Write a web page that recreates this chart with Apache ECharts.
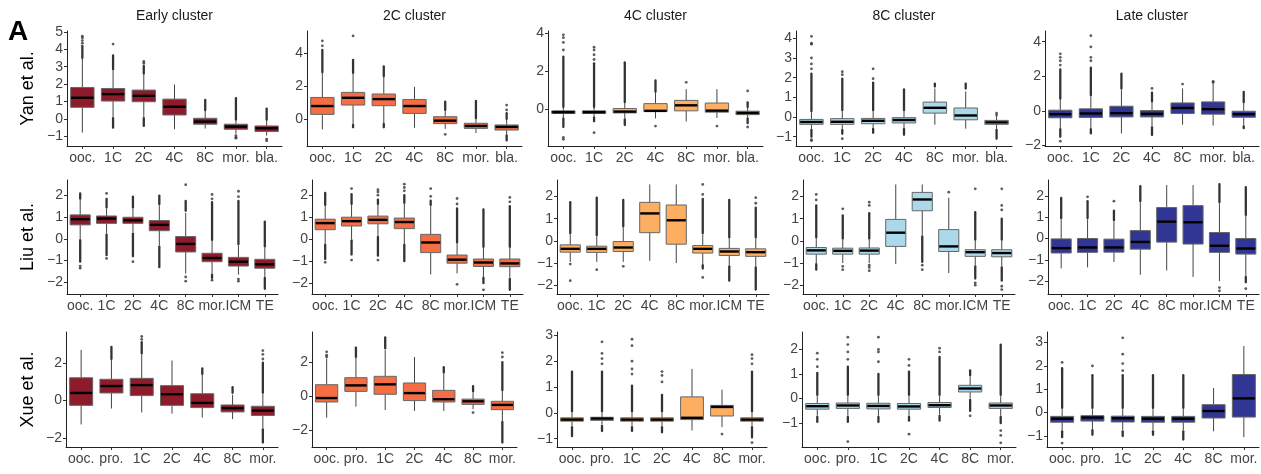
<!DOCTYPE html>
<html><head><meta charset="utf-8">
<script src="https://cdn.jsdelivr.net/npm/echarts@6/dist/echarts.min.js"></script>
<style>html,body{margin:0;padding:0;background:#fff}#chart{width:1261px;height:474px}</style>
</head><body><div id="chart"></div>
<script>
// ---------- categories / labels ----------
const catsYan = ['ooc.','1C','2C','4C','8C','mor.','bla.'];
const catsLiu = ['ooc.','1C','2C','4C','8C','mor.','ICM','TE'];
const catsXue = ['ooc.','pro.','1C','2C','4C','8C','mor.'];
const clusterTitles = ['Early cluster','2C cluster','4C cluster','8C cluster','Late cluster'];
const studyLabels = ['Yan et al.','Liu et al.','Xue et al.'];
const clusterColors = ['#8E1B2C','#F46D43','#FDAE61','#ABD9E9','#313695'];

// ---------- y tick labels ----------
const ticksYanEarly = [-1,0,1,2,3,4,5];
const ticksYan2C = [0,2,4];
const ticksYan4C = [0,2,4];
const ticksYan8C = [-1,0,1,2,3,4];
const ticksYanLate = [-2,0,2,4];
const ticksLiu = [-2,-1,0,1,2];
const ticksXueEarly = [-2,0,2];
const ticksXue2C = [-2,0,2];
const ticksXue4C = [-1,0,1,2,3];
const ticksXue8C = [-1,0,1,2];
const ticksXueLate = [-1,0,1,2,3];

// ---------- boxes: [lowWhisker, Q1, median, Q3, highWhisker] ----------
// runs: dense outlier strips [cat, from, to]; dots: single outliers [cat, value]
const yanEarlyBoxes = [[-0.78,0.67,1.22,1.81,3.45],[0.1,1.03,1.43,1.75,2.8],[0.1,0.99,1.33,1.66,2.55],[-0.59,0.23,0.70,1.14,1.98],[-0.55,-0.30,-0.15,0.04,0.45],[-0.85,-0.59,-0.44,-0.30,-0.1],[-0.95,-0.72,-0.53,-0.40,-0.1]];
const yanEarlyRuns = [[0,3.5,4.2],[1,2.85,3.65],[1,0.05,-0.5],[2,2.6,3.05],[2,0.05,-0.4],[4,0.5,1.1],[5,-0.05,1.2],[6,-0.05,0.6]];
const yanEarlyDots = [[0,4.35],[0,4.5],[0,4.65],[0,4.75],[1,4.3],[2,3.2],[2,3.3],[5,-0.95],[5,-1.05],[5,-1.1],[6,-1.15],[6,-1.25]];

const yan2CBoxes = [[-0.63,0.28,0.79,1.31,2.8],[-0.3,0.85,1.29,1.62,2.75],[-0.25,0.81,1.21,1.52,2.55],[-0.53,0.34,0.79,1.19,1.96],[-0.6,-0.28,-0.10,0.14,0.5],[-0.85,-0.57,-0.42,-0.26,0.0],[-0.95,-0.67,-0.48,-0.36,-0.05]];
const yan2CRuns = [[0,2.85,4.2],[1,2.8,3.6],[1,-0.35,-0.5],[2,2.6,3.2],[2,-0.3,-0.5],[4,0.55,1.05],[5,0.05,1.1],[6,0.0,0.35],[6,-1.0,-1.3]];
const yan2CDots = [[0,4.45],[0,4.75],[1,5.05],[4,-0.93],[6,0.55],[6,0.85]];

const yan4CBoxes = [[-0.45,-0.24,-0.17,-0.10,0.05],[-0.4,-0.24,-0.17,-0.10,0.05],[-0.5,-0.21,-0.14,0.02,0.3],[-0.5,-0.14,-0.10,0.28,0.85],[-0.66,-0.10,0.19,0.45,1.04],[-0.47,-0.17,-0.09,0.31,1.04],[-0.45,-0.30,-0.21,-0.12,0.05]];
const yan4CRuns = [[0,0.1,2.75],[0,-0.5,-0.95],[1,0.1,2.4],[1,-0.45,-0.65],[2,0.35,2.45],[2,-0.55,-0.85],[3,0.9,1.5],[6,0.1,0.35],[6,-0.5,-0.75]];
const yan4CDots = [[0,3.1],[0,3.5],[0,3.75],[0,3.9],[0,-1.5],[0,-1.6],[1,2.6],[1,2.85],[1,3.1],[1,3.25],[1,-1.25],[3,-0.9],[4,1.4],[5,-0.9],[6,0.95],[6,-0.95]];

const yan8CBoxes = [[-0.6,-0.37,-0.25,-0.12,0.25],[-0.6,-0.37,-0.24,-0.08,0.3],[-0.55,-0.34,-0.19,-0.07,0.3],[-0.55,-0.30,-0.15,-0.03,0.3],[-0.39,0.20,0.47,0.76,1.45],[-0.59,-0.14,0.08,0.46,1.3],[-0.6,-0.37,-0.27,-0.17,0.05]];
const yan8CRuns = [[0,0.3,2.2],[0,-0.65,-1.0],[1,0.35,1.95],[1,-0.65,-0.85],[2,0.35,1.75],[2,-0.6,-0.8],[3,0.35,1.4],[3,-0.6,-0.9],[4,1.55,1.7],[5,1.45,1.7],[6,-0.65,-1.1]];
const yan8CDots = [[0,2.45],[0,2.7],[0,3.0],[0,3.7],[0,3.75],[0,4.1],[0,-1.15],[0,-1.2],[1,2.15],[1,2.3],[1,-1.1],[2,1.95],[2,2.45],[6,0.1],[6,0.2]];

const yanLateBoxes = [[-1.0,-0.40,-0.19,0.04,0.65],[-1.0,-0.38,-0.15,0.12,0.85],[-1.3,-0.35,-0.13,0.27,1.25],[-0.9,-0.35,-0.17,0.02,0.5],[-0.8,-0.15,0.17,0.46,1.3],[-0.85,-0.19,0.10,0.52,1.6],[-0.85,-0.37,-0.19,-0.02,0.45]];
const yanLateRuns = [[0,0.7,2.4],[0,-1.05,-1.5],[1,0.9,2.5],[1,-1.05,-1.3],[2,1.3,2.15],[3,0.55,1.05],[3,-0.95,-1.4],[6,0.5,1.1],[6,-0.9,-1.0]];
const yanLateDots = [[0,2.65],[0,2.9],[0,3.1],[0,3.3],[0,-1.75],[1,2.9],[1,3.1],[1,3.7],[1,4.35],[3,1.3],[4,1.55],[5,1.65],[5,1.7]];

const liuEarlyBoxes = [[0.0,0.65,0.91,1.11,1.8],[0.25,0.72,0.94,1.06,1.4],[0.3,0.72,0.86,1.0,1.4],[-0.3,0.38,0.65,0.85,1.55],[-1.6,-0.60,-0.23,0.11,1.2],[-1.6,-1.05,-0.88,-0.66,-0.1],[-1.65,-1.25,-1.05,-0.85,-0.3],[-1.75,-1.35,-1.17,-0.94,-0.4]];
const liuEarlyRuns = [[0,1.85,2.1],[0,-0.05,-1.05],[1,1.45,1.85],[1,0.2,-0.75],[2,1.45,1.95],[2,0.25,-0.8],[3,1.6,2.0],[3,-0.35,-1.3],[4,1.3,1.75],[5,-0.05,1.7],[5,-1.65,-1.8],[6,-0.25,1.75],[7,-0.35,0.8],[7,-1.8,-2.3]];
const liuEarlyDots = [[0,-1.25],[0,-1.35],[1,2.1],[1,-0.9],[2,-1.05],[4,2.5],[4,-1.75],[4,-1.95],[5,1.85],[5,2.05],[5,-1.9],[6,1.95],[6,2.2],[6,-1.85],[6,-1.95]];

const liu2CBoxes = [[-0.2,0.43,0.73,0.91,1.5],[0.0,0.60,0.82,1.0,1.55],[0.15,0.70,0.88,1.05,1.55],[-0.2,0.48,0.78,0.96,1.6],[-1.6,-0.61,-0.15,0.22,1.5],[-1.55,-1.09,-0.93,-0.72,-0.2],[-1.7,-1.24,-1.06,-0.9,-0.4],[-1.75,-1.25,-1.1,-0.9,-0.4]];
const liu2CRuns = [[0,1.55,2.1],[0,-0.25,-0.9],[1,1.6,2.05],[1,-0.05,-0.7],[2,1.6,1.8],[2,0.1,-0.75],[3,1.65,2.0],[3,-0.25,-1.0],[4,1.55,1.75],[5,-0.15,1.4],[6,-0.35,1.35],[6,-1.75,-2.0],[7,-0.35,1.5],[7,-1.8,-2.3]];
const liu2CDots = [[0,-1.05],[1,2.3],[1,-0.95],[2,2.0],[2,2.15],[2,2.25],[2,-0.95],[3,2.2],[3,2.35],[3,2.5],[4,1.95],[4,2.3],[5,1.6],[5,1.85],[5,-2.05],[6,-2.3],[7,1.7],[7,1.9]];

const liu4CBoxes = [[-0.95,-0.51,-0.36,-0.18,0.3],[-0.95,-0.52,-0.36,-0.24,0.2],[-0.95,-0.48,-0.30,-0.03,0.6],[-0.9,0.37,1.24,1.74,2.55],[-1.0,-0.15,0.93,1.62,2.55],[-1.05,-0.55,-0.36,-0.21,0.3],[-1.1,-0.66,-0.48,-0.34,0.1],[-1.15,-0.70,-0.51,-0.36,0.1]];
const liu4CRuns = [[0,0.35,1.75],[1,0.25,1.95],[2,0.65,1.85],[5,0.35,1.9],[5,-1.1,-1.25],[6,0.15,1.85],[6,-1.15,-1.8],[7,0.15,1.5],[7,-1.2,-2.2]];
const liu4CDots = [[0,-1.05],[0,-1.8],[1,-1.3],[2,-1.15],[5,2.1],[5,2.55],[5,-1.65],[7,1.7],[7,1.95]];

const liu8CBoxes = [[-1.0,-0.60,-0.43,-0.30,0.1],[-1.0,-0.60,-0.45,-0.33,0.05],[-1.0,-0.60,-0.44,-0.32,0.05],[-1.05,-0.25,0.37,0.97,2.55],[0.25,1.36,1.87,2.19,2.55],[-1.45,-0.48,-0.25,0.51,1.95],[-1.1,-0.70,-0.51,-0.40,0.0],[-1.15,-0.72,-0.55,-0.40,0.0]];
const liu8CRuns = [[0,0.15,1.6],[0,-1.05,-1.3],[1,0.1,1.15],[2,0.1,1.25],[4,0.2,-0.95],[6,0.05,1.3],[6,-1.15,-1.7],[7,0.05,1.0],[7,-1.2,-1.8]];
const liu8CDots = [[0,1.85],[0,2.1],[1,1.45],[1,-1.15],[1,-1.3],[2,1.6],[2,1.75],[2,-1.1],[2,-1.2],[2,-1.35],[4,-1.1],[4,-1.3],[5,2.2],[6,2.35],[6,-1.9],[6,-2.0],[7,1.4],[7,1.6],[7,2.35],[7,-2.05],[7,-2.2]];

const liuLateBoxes = [[-1.4,-0.68,-0.45,-0.02,0.9],[-1.35,-0.65,-0.42,0.0,0.9],[-1.1,-0.64,-0.42,-0.03,0.8],[-1.7,-0.50,-0.16,0.37,1.7],[-1.5,-0.17,0.79,1.45,2.5],[-1.8,-0.26,0.76,1.54,2.5],[-2.0,-0.65,-0.34,0.28,1.65],[-1.75,-0.73,-0.47,0.0,1.05]];
const liuLateRuns = [[0,0.95,1.9],[1,0.95,1.75],[2,0.85,1.3],[3,1.75,2.45],[6,1.7,2.55],[7,1.1,2.4],[7,-1.8,-2.05]];
const liuLateDots = [[1,1.95],[2,1.75],[6,-2.3],[6,-2.45],[7,-2.35]];

const xueEarlyBoxes = [[-1.29,-0.27,0.39,1.20,2.69],[-0.44,0.39,0.76,1.12,2.15],[-0.65,0.25,0.81,1.17,2.45],[-0.71,-0.27,0.32,0.78,2.12],[-0.92,-0.39,-0.14,0.35,1.35],[-1.0,-0.62,-0.42,-0.25,0.3],[-1.5,-0.81,-0.55,-0.32,0.35]];
const xueEarlyRuns = [[1,2.2,2.85],[2,2.5,3.1],[4,1.4,1.7],[5,0.4,0.7],[6,0.4,2.0],[6,-1.55,-2.25]];
const xueEarlyDots = [[2,3.25],[2,3.4],[6,2.2],[6,2.45],[6,2.65]];

const xue2CBoxes = [[-1.25,-0.33,-0.10,0.68,2.2],[-0.6,0.29,0.64,1.09,2.25],[-0.8,0.12,0.70,1.17,2.7],[-0.85,-0.25,0.19,0.78,2.3],[-0.85,-0.33,-0.17,0.35,1.35],[-0.75,-0.47,-0.29,-0.16,0.25],[-1.45,-0.78,-0.50,-0.29,0.3]];
const xue2CRuns = [[1,2.3,2.85],[2,2.8,3.45],[4,1.4,1.7],[5,0.3,0.6],[6,0.35,2.0],[6,-1.5,-2.7]];
const xue2CDots = [[0,2.3],[0,2.4],[0,2.6],[5,-0.95],[6,2.3],[6,2.55]];

const xue4CBoxes = [[-0.5,-0.32,-0.26,-0.19,0.0],[-0.45,-0.29,-0.22,-0.17,0.0],[-0.5,-0.32,-0.26,-0.19,0.0],[-0.5,-0.32,-0.26,-0.19,0.0],[-0.68,-0.26,-0.19,0.62,1.7],[-0.55,-0.12,0.23,0.29,0.9],[-0.5,-0.32,-0.26,-0.19,0.0]];
const xue4CRuns = [[0,0.05,1.6],[0,-0.55,-0.9],[1,0.05,1.6],[1,-0.5,-0.7],[2,0.05,1.05],[2,-0.55,-0.7],[3,0.05,0.7],[3,-0.55,-0.75],[6,0.05,1.6],[6,-0.55,-0.95]];
const xue4CDots = [[1,1.9],[1,2.1],[1,2.3],[1,2.75],[2,1.5],[2,1.7],[2,2.0],[2,2.6],[2,2.85],[3,1.2],[3,1.45],[3,1.6],[5,-0.82],[6,1.9],[6,2.1],[6,2.25],[6,-1.15]];

const xue8CBoxes = [[-0.7,-0.43,-0.31,-0.20,0.1],[-0.7,-0.40,-0.28,-0.18,0.1],[-0.7,-0.42,-0.30,-0.19,0.1],[-0.7,-0.43,-0.32,-0.20,0.1],[-0.65,-0.36,-0.27,-0.16,0.1],[0.0,0.27,0.41,0.54,0.9],[-0.7,-0.40,-0.28,-0.18,0.1]];
const xue8CRuns = [[0,0.15,1.05],[0,-0.75,-0.95],[1,0.15,1.3],[1,-0.75,-0.95],[2,0.15,1.0],[2,-0.75,-0.95],[3,0.15,1.1],[3,-0.75,-0.9],[4,0.15,1.7],[4,-0.7,-0.9],[5,0.95,1.15],[5,-0.05,-0.5],[6,0.15,2.2],[6,-0.75,-1.0]];
const xue8CDots = [[0,1.3],[0,1.6],[0,1.85],[1,1.6],[1,1.9],[1,2.2],[1,2.5],[1,-1.75],[2,1.5],[2,1.9],[2,2.0],[2,2.5],[3,1.35],[3,1.6],[3,-1.45],[4,1.9],[4,2.05],[5,-0.7],[6,-1.3],[6,-1.5],[6,-1.8]];

const xueLateBoxes = [[-0.75,-0.41,-0.26,-0.16,0.15],[-0.7,-0.36,-0.21,-0.13,0.15],[-0.75,-0.40,-0.24,-0.15,0.15],[-0.75,-0.41,-0.26,-0.16,0.15],[-0.75,-0.41,-0.26,-0.16,0.15],[-0.8,-0.23,0.07,0.34,1.05],[-1.05,-0.19,0.61,1.63,2.85]];
const xueLateRuns = [[0,0.2,1.9],[0,-0.8,-1.05],[1,0.2,1.6],[1,-0.75,-0.95],[2,0.2,1.6],[2,-0.8,-1.0],[3,0.2,1.6],[3,-0.8,-0.95],[4,0.2,1.6],[4,-0.8,-1.15]];
const xueLateDots = [[0,2.15],[0,-1.3],[1,2.0],[2,1.8],[2,2.1],[2,2.5],[2,3.2]];

// ---------- assembly ----------
const rowCats = [catsYan, catsLiu, catsXue];
const panelSets = [
  [[yanEarlyBoxes,yanEarlyRuns,yanEarlyDots,ticksYanEarly],[yan2CBoxes,yan2CRuns,yan2CDots,ticksYan2C],[yan4CBoxes,yan4CRuns,yan4CDots,ticksYan4C],[yan8CBoxes,yan8CRuns,yan8CDots,ticksYan8C],[yanLateBoxes,yanLateRuns,yanLateDots,ticksYanLate]],
  [[liuEarlyBoxes,liuEarlyRuns,liuEarlyDots,ticksLiu],[liu2CBoxes,liu2CRuns,liu2CDots,ticksLiu],[liu4CBoxes,liu4CRuns,liu4CDots,ticksLiu],[liu8CBoxes,liu8CRuns,liu8CDots,ticksLiu],[liuLateBoxes,liuLateRuns,liuLateDots,ticksLiu]],
  [[xueEarlyBoxes,xueEarlyRuns,xueEarlyDots,ticksXueEarly],[xue2CBoxes,xue2CRuns,xue2CDots,ticksXue2C],[xue4CBoxes,xue4CRuns,xue4CDots,ticksXue4C],[xue8CBoxes,xue8CRuns,xue8CDots,ticksXue8C],[xueLateBoxes,xueLateRuns,xueLateDots,ticksXueLate]]
];
const yRanges = [
  [[-1.55,5.05],[-1.64,5.35],[-1.95,4.1],[-1.47,4.37],[-2.03,4.62]],
  [[-2.54,2.72],[-2.49,2.69],[-2.4,2.75],[-2.4,2.75],[-2.6,2.74]],
  [[-2.49,3.64],[-2.96,3.76],[-1.32,3.13],[-1.97,2.71],[-1.47,3.45]]
];
const rowTops = [31,180,332];
const rowHeights = [115,114,115];
const colLefts = [[67,307,548,796,1045],[67,312,557,803,1048],[66,312,557,802,1047]];
const colRights = [[282,522,763,1012,1259],[278,523,769,1015,1259],[278,517,767,1016,1259]];

const FONT = "'Liberation Sans', Arial, Helvetica, sans-serif";
const fmt = v => (v < 0 ? '\u2212' + Math.abs(v) : String(v));

function makeBoxRender(color){
  return function(params, api){
    const cat = api.value(0);
    const pLo = api.coord([cat, api.value(1)]);
    const pQ1 = api.coord([cat, api.value(2)]);
    const pMd = api.coord([cat, api.value(3)]);
    const pQ3 = api.coord([cat, api.value(4)]);
    const pHi = api.coord([cat, api.value(5)]);
    const bw = api.size([1,0])[0]*0.76;
    const cx = pLo[0];
    return {type:'group', children:[
      {type:'line', shape:{x1:cx,y1:pLo[1],x2:cx,y2:pQ1[1]}, style:{stroke:'#444',lineWidth:1}},
      {type:'line', shape:{x1:cx,y1:pQ3[1],x2:cx,y2:pHi[1]}, style:{stroke:'#444',lineWidth:1}},
      {type:'rect', shape:{x:cx-bw/2,y:pQ3[1],width:bw,height:Math.max(1,pQ1[1]-pQ3[1])}, style:{fill:color,stroke:'#666',lineWidth:1}},
      {type:'line', shape:{x1:cx-bw/2+0.5,y1:pMd[1],x2:cx+bw/2-0.5,y2:pMd[1]}, style:{stroke:'#000',lineWidth:2.4}}
    ]};
  };
}
function runRender(params, api){
  const cat = api.value(0);
  const a = api.coord([cat, api.value(1)]);
  const b = api.coord([cat, api.value(2)]);
  return {type:'line', shape:{x1:a[0],y1:a[1],x2:b[0],y2:b[1]}, style:{stroke:'#333',lineWidth:2.3,lineCap:'round'}};
}

const grids=[], xAxes=[], yAxes=[], series=[], graphics=[];
for (let r=0;r<3;r++){
  for (let c=0;c<5;c++){
    const i = r*5+c;
    const [boxes, runs, dots, ticks] = panelSets[r][c];
    grids.push({left:colLefts[r][c], top:rowTops[r], width:colRights[r][c]-colLefts[r][c], height:rowHeights[r]});
    xAxes.push({type:'category', gridIndex:i, data:rowCats[r], boundaryGap:true,
      axisLine:{show:true,onZero:false,lineStyle:{color:'#222',width:1}},
      axisTick:{show:true,alignWithLabel:true,length:3,lineStyle:{color:'#333'}},
      axisLabel:{interval:0,color:'#444',fontSize:14,margin:5,fontFamily:FONT},
      splitLine:{show:false}});
    yAxes.push({type:'value', gridIndex:i, min:yRanges[r][c][0], max:yRanges[r][c][1],
      axisLine:{show:true,lineStyle:{color:'#222',width:1}},
      axisTick:{show:true,length:3,customValues:ticks,lineStyle:{color:'#333'}},
      axisLabel:{show:true,customValues:ticks,formatter:fmt,color:'#444',fontSize:14,margin:4,fontFamily:FONT},
      splitLine:{show:false}});
    series.push({type:'custom', xAxisIndex:i, yAxisIndex:i, renderItem:makeBoxRender(clusterColors[c]),
      encode:{x:0,y:[1,2,3,4,5]}, data:boxes.map((b,k)=>[k].concat(b)), silent:true, z:2});
    series.push({type:'custom', xAxisIndex:i, yAxisIndex:i, renderItem:runRender,
      encode:{x:0,y:[1,2]}, data:runs, silent:true, z:3});
    series.push({type:'scatter', xAxisIndex:i, yAxisIndex:i, data:dots, symbolSize:2.8,
      itemStyle:{color:'#333'}, silent:true, z:3});
  }
}
for (let c=0;c<5;c++){
  graphics.push({type:'text', x:(colLefts[0][c]+colRights[0][c])/2, y:16,
    style:{text:clusterTitles[c], font:'14px '+FONT, fill:'#1a1a1a', textAlign:'center', textVerticalAlign:'middle'}});
}
for (let r=0;r<3;r++){
  graphics.push({type:'text', x:28, y:rowTops[r]+rowHeights[r]/2, rotation:Math.PI/2,
    style:{text:studyLabels[r], font:'18px '+FONT, fill:'#000', textAlign:'center', textVerticalAlign:'middle'}});
}
graphics.push({type:'text', x:18, y:32, style:{text:'A', font:'bold 28px '+FONT, fill:'#000', textAlign:'center', textVerticalAlign:'middle'}});

const chart = echarts.init(document.getElementById('chart'), null, {renderer:'canvas'});
chart.setOption({animation:false, backgroundColor:'#fff', grid:grids, xAxis:xAxes, yAxis:yAxes, series:series, graphic:graphics});
</script></body></html>
